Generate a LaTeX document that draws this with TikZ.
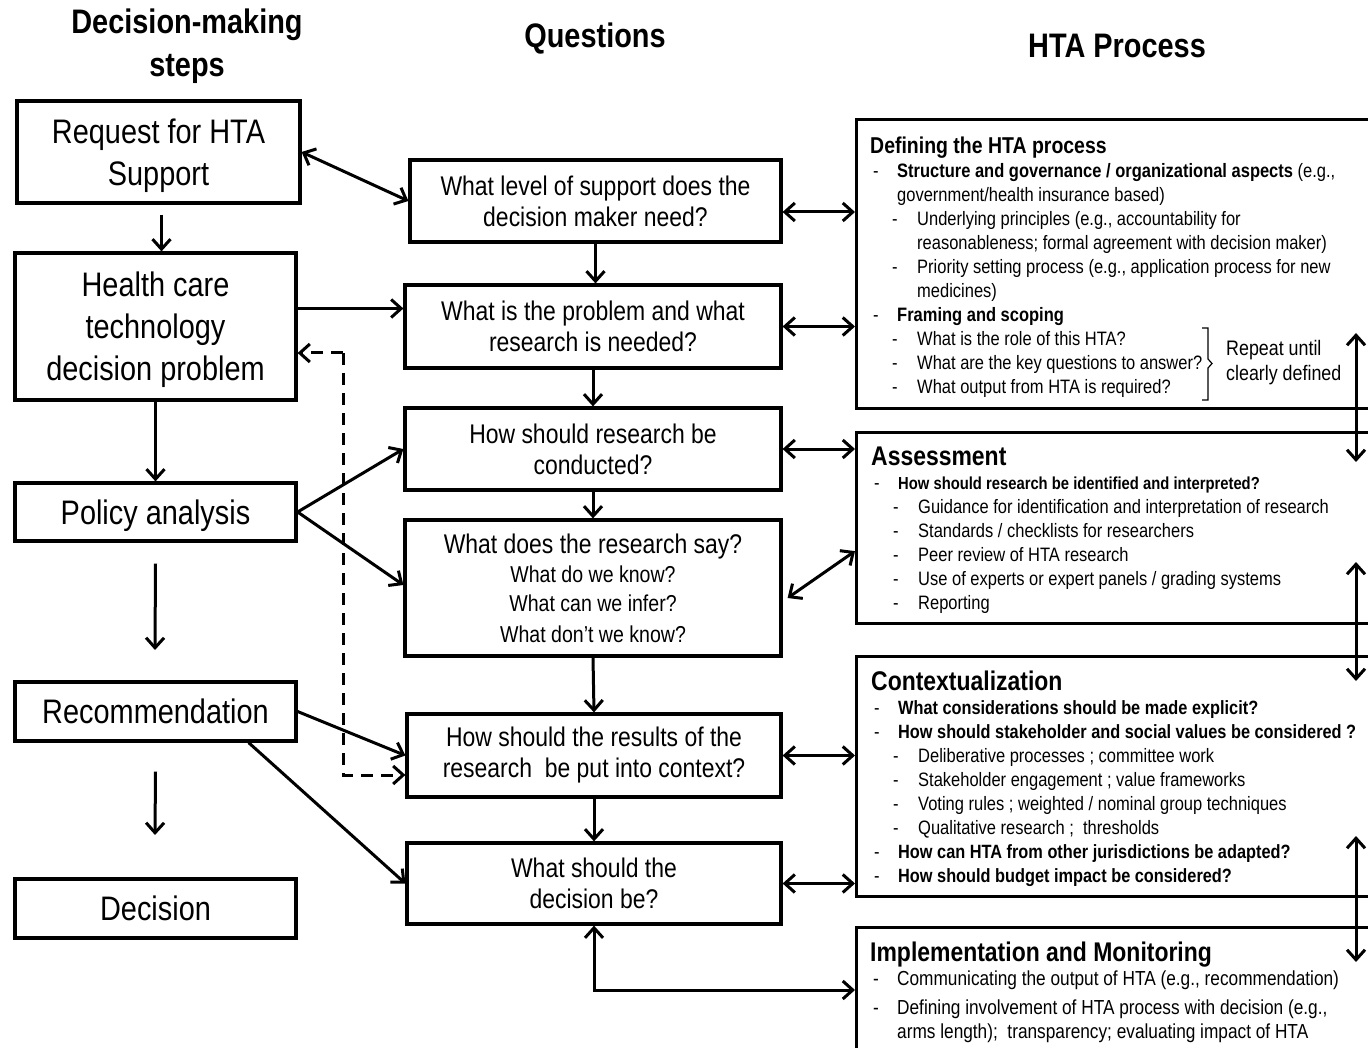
\documentclass[tikz,border=0pt]{standalone}
\usepackage{fontspec}
\setmainfont{Liberation Sans}[FakeStretch=0.85]
\usetikzlibrary{arrows.meta}
\newcommand{\fsz}[2]{\fontsize{#1}{#2}\selectfont}
\newcommand{\lvA}[1]{\hspace*{3pt}\makebox[24pt][l]{-}#1}
\newcommand{\lvB}[1]{\hspace*{22pt}\makebox[25pt][l]{-}#1}
\newcommand{\lvAc}{\hspace*{27pt}}
\newcommand{\lvBc}{\hspace*{47pt}}
\newcommand{\hq}[1]{{\bfseries\fsz{19.2}{24}#1}}
\tikzset{
	stepbox/.style={draw, line width=3.2pt, align=center, inner sep=0pt, text depth=0pt, font=\fsz{34}{42}},
	qbox/.style={draw, line width=3.2pt, align=flush center, inner sep=0pt, text width=360pt, font=\fsz{27}{31}},
	htabox/.style={draw, line width=3.2pt, inner sep=0pt, minimum width=530pt, anchor=north west},
	htatext/.style={anchor=north west, inner sep=0pt, text width=520pt, align=flush left, font=\fsz{19.4}{24}},
	coltitle/.style={align=center, font=\bfseries\fsz{34}{43}},
	arr/.style={-{Straight Barb[length=10pt,width=18pt]}, line width=3pt},
	dblarr/.style={{Straight Barb[length=10pt,width=18pt]}-{Straight Barb[length=10pt,width=18pt]}, line width=3pt},
	dasharr/.style={arr, dash pattern=on 12pt off 8pt}
}
\begin{document}
\begin{tikzpicture}[x=1pt, y=-1pt]
	\useasboundingbox (0,0) rectangle (1368,1048);
	\clip (0,0) rectangle (1368,1048);
	
	%%%%% column titles %%%%%
	\node[coltitle] (tsteps) at (187,46) {Decision-making\\steps};
	\node[coltitle] (tquest) at (595,39) {Questions};
	\node[coltitle] (thta) at (1117,46) {HTA Process};
	
	%%%%% decision-making steps %%%%%
	\node[stepbox, minimum width=283pt, minimum height=102pt] (req) at (158.5,152) {Request for HTA\\Support};
	\node[stepbox, minimum width=281pt, minimum height=147pt] (hc) at (155.5,326.5) {Health care\\technology\\decision problem};
	\node[stepbox, minimum width=281pt, minimum height=58pt] (pol) at (155.5,512) {Policy analysis};
	\node[stepbox, minimum width=281pt, minimum height=59pt] (rec) at (155.5,711.5) {Recommendation};
	\node[stepbox, minimum width=281pt, minimum height=59pt] (dec) at (155.5,908.5) {Decision};
	
	\draw[arr] ([xshift=3pt,yshift=-10pt]req.south) -- ([xshift=3pt]req.south |- hc.north);
	\draw[arr] (hc.south) -- (pol.north);
	\coordinate (polend) at (155,650);
	\draw[arr] ([yshift=-21pt]pol.south) -- (polend);
	\coordinate (recend) at (155,835);
	\draw[arr] ([yshift=-29pt]rec.south) -- (recend);
	
	%%%%% questions %%%%%
	\node[qbox, minimum width=371pt, minimum height=82pt] (q1) at (595.5,201) {What level of support does the\\decision maker need?};
	\node[qbox, minimum width=376pt, minimum height=83pt] (q2) at (593,326.5) {What is the problem and what\\research is needed?};
	\node[qbox, minimum width=376pt, minimum height=82pt] (q3) at (593,449) {How should research be\\conducted?};
	\node[qbox, minimum width=376pt, minimum height=136pt] (q4) at (593,588) {What does the research say?\par\fsz{23}{29}What do we know?\\What can we infer?\\What don’t we know?};
	\node[qbox, minimum width=374pt, minimum height=83pt] (q5) at (594,755.5) {How should the results of the\\research~ be put into context?};
	\node[qbox, minimum width=374pt, minimum height=81pt] (q6) at (594,883.5) {What should the\\decision be?};
	
	\draw[arr] (q1.south) -- (q1.south |- q2.north);
	\draw[arr] (q2.south) -- (q3.north);
	\draw[arr] (q3.south) -- (q4.north);
	\draw[arr] (q4.south) -- (q5.north);
	\draw[arr] (q5.south) -- (q6.north);
	
	%%%%% steps -> questions %%%%%
	\draw[dblarr] (req.east) -- (q1.west);
	\draw[arr] ([yshift=18pt]hc.east) -- ([yshift=18pt]hc.east -| q2.west);
	\draw[arr] (pol.east) -- (q3.west);
	\draw[arr] (pol.east) -- ([yshift=3pt]q4.west);
	\draw[arr] (rec.east) -- (q5.west);
	\draw[arr] ([xshift=-49pt]rec.south east) -- (q6.west);
	
	\coordinate (dtop) at (343,353);
	\coordinate (dbot) at (343,775);
	\draw[dasharr] (dtop) -- (dtop -| hc.east);
	\draw[dasharr] (dtop) -- (dbot) -- (dbot -| q5.west);
	
	%%%%% HTA process %%%%%
	\node[htabox, minimum height=289pt] (def) at (855,118) {};
	\node[htabox, minimum height=191pt] (asm) at (855,431) {};
	\node[htabox, minimum height=240pt] (ctx) at (855,655) {};
	\node[htabox, minimum height=140pt] (imp) at (855,926) {};
	
	\node[htatext] (deftxt) at (870,137) {{\bfseries\fsz{22.9}{24}Defining the HTA process\par}
		\lvA{\textbf{Structure and governance / organizational aspects} (e.g.,}\\
		\lvAc government/health insurance based)\\
		\lvB{Underlying principles (e.g., accountability for}\\
		\lvBc reasonableness; formal agreement with decision maker)\\
		\lvB{Priority setting process (e.g., application process for new}\\
		\lvBc medicines)\\
		\lvA{\textbf{Framing and scoping}}\\
		\lvB{What is the role of this HTA?}\\
		\lvB{What are the key questions to answer?}\\
		\lvB{What output from HTA is required?}};
	
	% bracket round the framing questions
	\draw[line width=1.2pt] (1202,328) -- (1208,328) -- (1208,359) -- (1212,363.5) -- (1208,368) -- (1208,400) -- (1202,400);
	\node[anchor=west, align=left, inner sep=0pt, font=\fsz{21}{25}] (rpt) at (1226,363) {Repeat until\\clearly defined};
	
	\node[htatext] (asmtxt) at (871,447) {{\bfseries\fsz{27}{24}Assessment\par}
		\lvA{{\bfseries\fsz{17.4}{24}How should research be identified and interpreted?}}\\
		\lvB{Guidance for identification and interpretation of research}\\
		\lvB{Standards / checklists for researchers}\\
		\lvB{Peer review of HTA research}\\
		\lvB{Use of experts or expert panels / grading systems}\\
		\lvB{Reporting}};
	
	\node[htatext] (ctxtxt) at (871,671) {{\bfseries\fsz{27}{24}Contextualization\par}
		\lvA{\hq{What considerations should be made explicit?}}\\
		\lvA{\hq{How should stakeholder and social values be considered ?}}\\
		\lvB{Deliberative processes ; committee work}\\
		\lvB{Stakeholder engagement ; value frameworks}\\
		\lvB{Voting rules ; weighted / nominal group techniques}\\
		\lvB{Qualitative research ;~ thresholds}\\
		\lvA{\hq{How can HTA from other jurisdictions be adapted?}}\\
		\lvA{\hq{How should budget impact be considered?}}};
	
	\node[htatext, font=\fsz{20.3}{24}] (imptxt) at (870,942) {{\bfseries\fsz{27}{24}Implementation and Monitoring\par}
		\lvA{Communicating the output of HTA (e.g., recommendation)}\par
		\vspace{5pt}
		\lvA{Defining involvement of HTA process with decision (e.g.,}\\
		\lvAc arms length);~ transparency; evaluating impact of HTA};
	
	%%%%% questions <-> HTA process %%%%%
	\draw[dblarr] ([yshift=-11pt]q1.east) -- ([yshift=-11pt]q1.east -| def.west);
	\draw[dblarr] (q2.east) -- (q2.east -| def.west);
	\draw[dblarr] (q3.east) -- (q3.east -| asm.west);
	\draw[dblarr] ([xshift=5pt,yshift=-10pt]q4.east) -- ([yshift=-23pt]asm.west);
	\draw[dblarr] (q5.east) -- (q5.east -| ctx.west);
	\draw[dblarr] (q6.east) -- (q6.east -| ctx.west);
	\coordinate (elb) at (594,990);
	\draw[dblarr] (q6.south) -- (elb) -- (elb -| imp.west);
	
	%%%%% repeat arrows %%%%%
	\draw[dblarr] (1356,333) -- (1356,462);
	\draw[dblarr] (1356,562) -- (1356,681);
	\draw[dblarr] (1356,836) -- (1356,962);
\end{tikzpicture}
\end{document}
